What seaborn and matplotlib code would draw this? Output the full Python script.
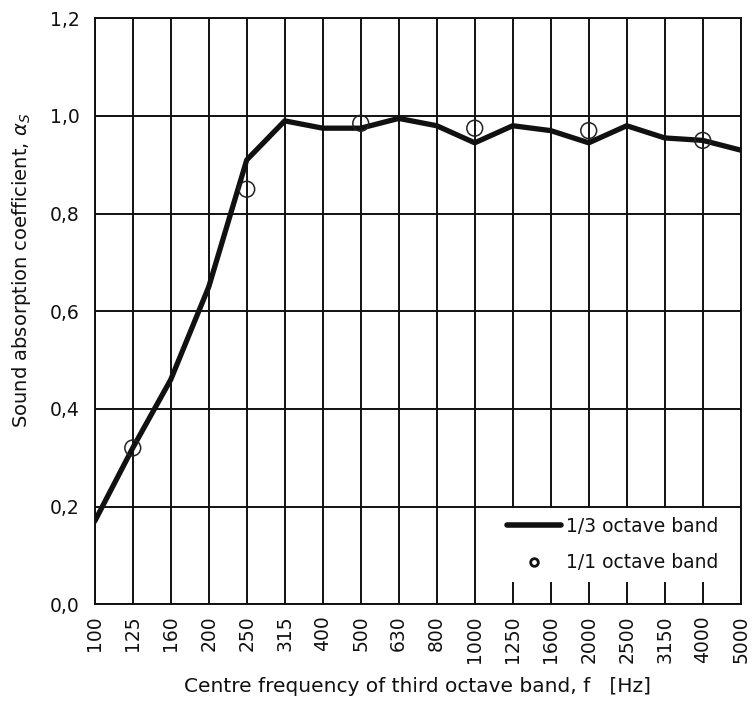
import numpy as np
import matplotlib
matplotlib.use('Agg')
import matplotlib.pyplot as plt
import seaborn as sns
from matplotlib.lines import Line2D
from matplotlib.patches import Rectangle

# Third octave band centre frequencies and measured absorption
freqs = ['100', '125', '160', '200', '250', '315', '400', '500', '630', '800',
         '1000', '1250', '1600', '2000', '2500', '3150', '4000', '5000']
alpha_third = [0.17, 0.32, 0.46, 0.65, 0.91, 0.99, 0.975, 0.975, 0.995, 0.98,
               0.945, 0.98, 0.97, 0.945, 0.98, 0.955, 0.95, 0.93]

# Octave band values
octave_freqs = ['125', '250', '500', '1000', '2000', '4000']
alpha_octave = [0.32, 0.85, 0.985, 0.975, 0.97, 0.95]

y_ticks = [0.0, 0.2, 0.4, 0.6, 0.8, 1.0, 1.2]

sns.set_style('white')
plt.rcParams['font.family'] = ['DejaVu Sans']
ink = '#111111'
plt.rcParams['text.color'] = ink
plt.rcParams['axes.labelcolor'] = ink
plt.rcParams['xtick.color'] = ink
plt.rcParams['ytick.color'] = ink

fig = plt.figure(figsize=(7.52, 7.05), dpi=100)
ax = fig.add_axes([0.126, 0.143, 0.859, 0.831])

x_third = np.arange(len(freqs))
x_oct = [freqs.index(f) for f in octave_freqs]

sns.lineplot(x=x_third, y=alpha_third, ax=ax, color=ink, linewidth=3.8,
             zorder=3)
sns.scatterplot(x=x_oct, y=alpha_octave, ax=ax, s=130,
                facecolor='none', edgecolor='#222222', linewidth=1.1, zorder=4)

ax.set_xlim(0, len(freqs) - 1)
ax.set_ylim(0, 1.2)
ax.set_xticks(x_third)
ax.set_xticklabels(freqs, rotation=90, fontsize=13.5)
ax.set_yticks(y_ticks)
ax.set_yticklabels([f'{v:.1f}'.replace('.', ',') for v in y_ticks], fontsize=13.5)
ax.grid(True, color=ink, linewidth=1.4)
ax.set_axisbelow(True)
for s in ax.spines.values():
    s.set_color(ink)
    s.set_linewidth(1.4)
ax.tick_params(axis='x', length=4, color=ink, direction='out', pad=4)
ax.tick_params(axis='y', length=6, color='#888888', direction='out', pad=5)

ax.set_xlabel('Centre frequency of third octave band, f   [Hz]', fontsize=14.5,
              labelpad=10)
ax.set_ylabel(r'Sound absorption coefficient, $\alpha_S$', fontsize=14)
ax.yaxis.set_label_coords(-0.096, 0.57)

# white legend box hiding the grid in the lower right corner
ax.add_patch(Rectangle((0.591, 0.0375), 0.409, 0.126, transform=ax.transAxes,
                       facecolor='white', edgecolor='none', zorder=2))

handles = [Line2D([], [], color=ink, linewidth=4),
           Line2D([], [], marker='o', linestyle='none', markersize=5.5,
                  markerfacecolor='none', markeredgecolor=ink,
                  markeredgewidth=2)]
leg = ax.legend(handles, ['1/3 octave band', '1/1 octave band'],
                loc='center left', bbox_to_anchor=(0.638, 0.102),
                fontsize=13.5, frameon=False, handlelength=2.9,
                handletextpad=0.25, labelspacing=0.95, borderpad=0,
                borderaxespad=0)
leg.set_zorder(5)

fig.savefig('out.png', dpi=100)
